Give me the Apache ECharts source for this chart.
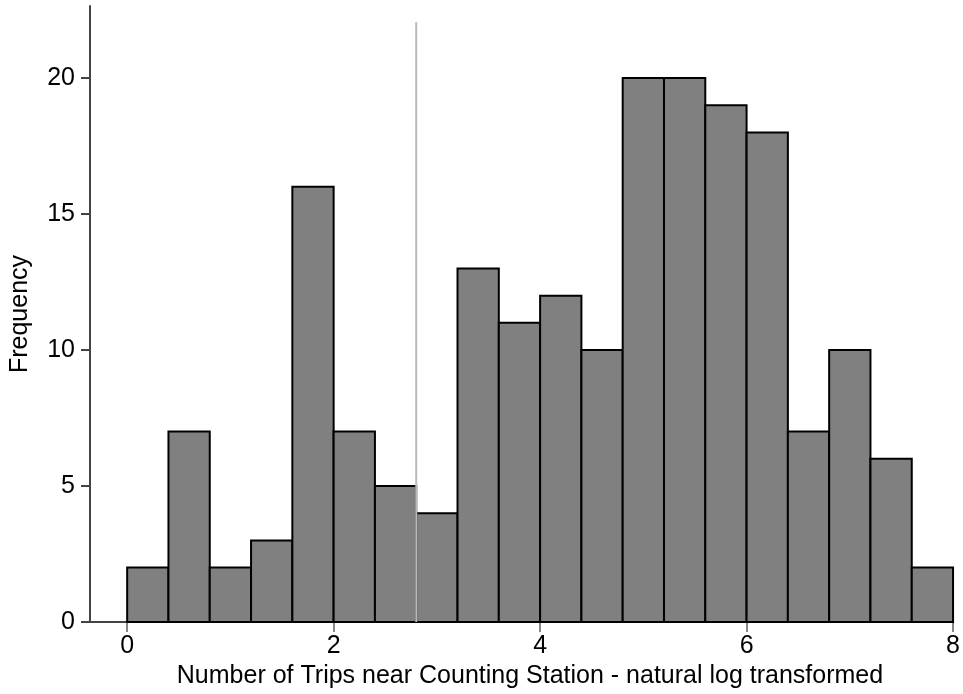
<!DOCTYPE html>
<html>
<head>
<meta charset="utf-8">
<script src="https://cdn.jsdelivr.net/npm/echarts@6/dist/echarts.min.js"></script>
<style>
html,body{margin:0;padding:0;background:#fff;}
#chart{width:963px;height:694px;}
</style>
</head>
<body>
<div id="chart"></div>
<script>
// Histogram bins (left edge, right edge) and frequencies
const binLeft  = [0.0,0.4,0.8,1.2,1.6,2.0,2.4,2.8,3.2,3.6,4.0,4.4,4.8,5.2,5.6,6.0,6.4,6.8,7.2,7.6];
const binRight = [0.4,0.8,1.2,1.6,2.0,2.4,2.8,3.2,3.6,4.0,4.4,4.8,5.2,5.6,6.0,6.4,6.8,7.2,7.6,8.0];
const frequency = [2,7,2,3,16,7,5,4,13,11,12,10,20,20,19,18,7,10,6,2];
const xTicks = [0,2,4,6,8];
const yTicks = [0,5,10,15,20];
const refLineX = 2.8;
const refLineTop = 22.06;
const xTitle = 'Number of Trips near Counting Station - natural log transformed';
const yTitle = 'Frequency';

const font = 'Liberation Sans, Arial, Helvetica, sans-serif';
const chart = echarts.init(document.getElementById('chart'), null, {renderer:'canvas'});
const data = binLeft.map((l,i)=>[l, binRight[i], frequency[i]]);

chart.setOption({
  animation:false,
  backgroundColor:'#fff',
  grid:{left:90,right:6,top:6,bottom:72,containLabel:false},
  xAxis:{
    type:'value', min:-0.36, max:8,
    splitLine:{show:false},
    axisLine:{show:true,onZero:false,lineStyle:{color:'#444',width:2}},
    axisTick:{show:true,customValues:xTicks,length:10,lineStyle:{color:'#888',width:2}},
    axisLabel:{customValues:xTicks,fontSize:25,color:'#000',fontFamily:font,margin:12}
  },
  yAxis:{
    type:'value', min:0, max:22.65,
    name:yTitle, nameLocation:'middle', nameGap:57,
    nameTextStyle:{fontSize:25,color:'#000',fontFamily:font},
    splitLine:{show:false},
    axisLine:{show:true,onZero:false,lineStyle:{color:'#444',width:2}},
    axisTick:{show:true,customValues:yTicks,length:9,lineStyle:{color:'#444',width:2}},
    axisLabel:{customValues:yTicks,fontSize:25,color:'#000',fontFamily:font,margin:15}
  },
  graphic:[{
    type:'text', x:530, y:664, z:10,
    style:{text:xTitle, fontSize:25, fill:'#000', fontFamily:font, textAlign:'center'}
  }],
  series:[{
    type:'custom',
    data:data,
    encode:{x:[0,1],y:2},
    renderItem:function(params, api){
      const p0 = api.coord([api.value(0), api.value(2)]);
      const p1 = api.coord([api.value(1), 0]);
      return {type:'rect',
        shape:{x:p0[0],y:p0[1],width:p1[0]-p0[0],height:p1[1]-p0[1]},
        style:{fill:'#808080',stroke:'#000',lineWidth:2}};
    },
    z:2
  },{
    type:'line',
    data:[[refLineX,0],[refLineX,refLineTop]],
    symbol:'none',
    lineStyle:{color:'#bbbbbb',width:2},
    z:5
  }]
});
</script>
</body>
</html>
